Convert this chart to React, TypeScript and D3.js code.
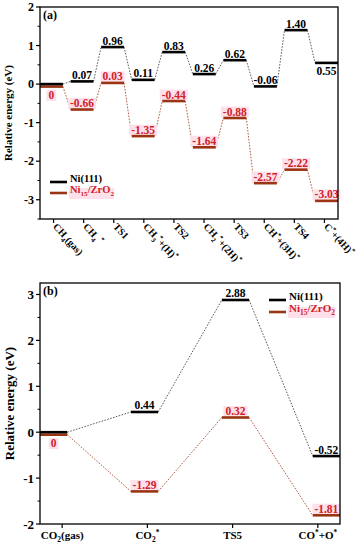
import React from "react";
import * as d3 from "d3";

const topCategories = ["CH4(gas)", "CH4 *", "TS1", "CH3*+(H)*", "TS2", "CH2*+(2H)*", "TS3", "CH*+(3H)*", "TS4", "C*+(4H)*"];
const topNi111 = [0, 0.07, 0.96, 0.11, 0.83, 0.26, 0.62, -0.06, 1.4, 0.55];
const topNiZrO2 = [0, -0.66, 0.03, -1.35, -0.44, -1.64, -0.88, -2.57, -2.22, -3.03];
const topNi111Below = [false, false, false, false, false, false, false, false, false, true];
const topYTicks = [-3, -2, -1, 0, 1, 2];

const bottomCategories = ["CO2(gas)", "CO2*", "TS5", "CO*+O*"];
const bottomNi111 = [0, 0.44, 2.88, -0.52];
const bottomNiZrO2 = [0, -1.29, 0.32, -1.81];
const bottomNi111Below = [false, false, false, false];
const bottomYTicks = [-2, -1, 0, 1, 2, 3];

const seriesNames = ["Ni(111)", "Ni15/ZrO2"];

const FONT = "'Liberation Serif', 'Times New Roman', serif";
const BLACK = "#000";
const BROWN = "#9a3412";
const RED_TEXT = "#d0202a";
const PINK = "#fde0ea";

type Seg = { t: string; k: "n" | "sub" | "sup" };

function parse(s: string): Seg[] {
  const segs: Seg[] = [];
  for (let i = 0; i < s.length; i++) {
    const c = s[i];
    const prev = i > 0 ? s[i - 1] : "";
    let k: Seg["k"] = "n";
    if (c === "*") k = "sup";
    else if (/[0-9]/.test(c)) {
      const prevIsLetter = /[A-Za-z]/.test(prev) && prev !== "S";
      const prevIsSubDigit = /[0-9]/.test(prev) && segs.length && segs[segs.length - 1].k === "sub";
      if (prevIsLetter || prevIsSubDigit) k = "sub";
    }
    const last = segs[segs.length - 1];
    if (last && last.k === k) last.t += c;
    else segs.push({ t: c, k });
  }
  return segs;
}

function Rich({ s, fs }: { s: string; fs: number }) {
  const segs = parse(s);
  let cur = 0;
  return (
    <>
      {segs.map((sg, i) => {
        const target = sg.k === "sub" ? fs * 0.3 : sg.k === "sup" ? -fs * 0.4 : 0;
        const dy = target - cur;
        cur = target;
        return (
          <tspan key={i} dy={dy} fontSize={sg.k === "n" ? fs : fs * 0.68}>
            {sg.t}
          </tspan>
        );
      })}
    </>
  );
}

const fmt = (v: number) => (v === 0 ? "0" : v.toFixed(2));
const textW = (s: string, fs: number) => {
  let w = 0;
  for (const c of s) w += c === "." ? 0.25 : c === "-" ? 0.333 : 0.5;
  return w * fs;
};

type PanelProps = {
  x0: number; x1: number; y0: number; y1: number;
  yDomain: [number, number];
  yTicks: number[];
  cats: string[];
  black: number[];
  red: number[];
  blackBelow: boolean[];
  paddingInner: number;
  tickPadding: number;
  rotated: boolean;
  tag: string;
  titleFs: number;
  titleX: number;
  tickFs: number;
  legendX: number;
  legendY: number;
  legendGap: number;
  legendFs: number;
  xLabelFs: number;
};

function Panel(p: PanelProps) {
  const y = d3.scaleLinear().domain(p.yDomain).range([p.y1, p.y0]);
  const idx = p.cats.map((_, i) => String(i));
  const xb = d3.scaleBand().domain(idx).range([p.x0, p.x1]).paddingInner(p.paddingInner).paddingOuter(0);
  const xt = d3.scalePoint().domain(idx).range([p.x0, p.x1]).padding(p.tickPadding);
  const bw = xb.bandwidth();
  const minor = d3.range(p.yDomain[0], p.yDomain[1] + 0.001, 0.5).filter((v) => !p.yTicks.includes(v));
  const labFs = 11.5;

  const redY = (i: number) => y(p.red[i]) + (p.red[i] === p.black[i] ? 2.5 : 0);

  const connectors = (vals: number[], yf: (i: number) => number, color: string) =>
    vals.slice(0, -1).map((_, i) => (
      <line
        key={color + i}
        x1={(xb(String(i)) as number) + bw}
        y1={yf(i)}
        x2={xb(String(i + 1)) as number}
        y2={yf(i + 1)}
        stroke={color}
        strokeWidth={0.8}
        strokeDasharray="1.6,1.4"
      />
    ));

  const lfs = p.legendFs;

  return (
    <g fontFamily={FONT} fontWeight="bold">
      {connectors(p.red, redY, BROWN)}
      {connectors(p.black, (i) => y(p.black[i]), "#333")}
      {p.red.map((v, i) => {
        const cx = (xb(String(i)) as number) + bw / 2;
        const below = v === 0;
        const by = below ? redY(i) + 12.5 : redY(i) - 2.5;
        const s = fmt(v);
        const w = textW(s, labFs);
        return (
          <g key={"rl" + i}>
            <rect x={cx - w / 2 - 2} y={by - 9} width={w + 4} height={11} fill={PINK} />
            <text x={cx} y={by} textAnchor="middle" fontSize={labFs} fill={RED_TEXT}>{s}</text>
          </g>
        );
      })}
      {p.red.map((v, i) => (
        <line key={"rb" + i} x1={xb(String(i)) as number} x2={(xb(String(i)) as number) + bw} y1={redY(i)} y2={redY(i)} stroke={BROWN} strokeWidth={2.6} />
      ))}
      {p.black.map((v, i) => (
        <line key={"bb" + i} x1={xb(String(i)) as number} x2={(xb(String(i)) as number) + bw} y1={y(v)} y2={y(v)} stroke={BLACK} strokeWidth={2.6} />
      ))}
      {p.black.map((v, i) => {
        if (v === 0 && i === 0) return null;
        const cx = (xb(String(i)) as number) + bw / 2;
        const by = p.blackBelow[i] ? y(v) + 12.5 : y(v) - 2.5;
        return (
          <text key={"bl" + i} x={cx} y={by} textAnchor="middle" fontSize={labFs} fill={BLACK}>{fmt(v)}</text>
        );
      })}
      <rect x={p.x0} y={p.y0} width={p.x1 - p.x0} height={p.y1 - p.y0} fill="none" stroke={BLACK} strokeWidth={1.3} />
      {p.yTicks.map((t) => (
        <g key={"yt" + t}>
          <line x1={p.x0 - 4} x2={p.x0} y1={y(t)} y2={y(t)} stroke={BLACK} strokeWidth={1.2} />
          <text x={p.x0 - 6} y={y(t)} dy="0.35em" textAnchor="end" fontSize={p.tickFs}>{t}</text>
        </g>
      ))}
      {minor.map((t) => (
        <line key={"ym" + t} x1={p.x0 - 2.5} x2={p.x0} y1={y(t)} y2={y(t)} stroke={BLACK} strokeWidth={1} />
      ))}
      {idx.map((d, i) => {
        const tx = xt(d) as number;
        return (
          <g key={"xt" + i}>
            <line x1={tx} x2={tx} y1={p.y1} y2={p.y1 + 4} stroke={BLACK} strokeWidth={1.2} />
            {p.rotated ? (
              <text transform={`translate(${tx - 1},${p.y1 + 8}) rotate(48)`} fontSize={p.xLabelFs} dy="0.7em">
                <Rich s={p.cats[i]} fs={p.xLabelFs} />
              </text>
            ) : (
              <text x={tx} y={p.y1 + 15} textAnchor="middle" fontSize={p.xLabelFs}>
                <Rich s={p.cats[i]} fs={p.xLabelFs} />
              </text>
            )}
          </g>
        );
      })}
      <text x={p.x0 + 3} y={p.y0 + 12} fontSize={12}>{p.tag}</text>
      <text transform={`translate(${p.titleX},${(p.y0 + p.y1) / 2}) rotate(-90)`} textAnchor="middle" fontSize={p.titleFs}>
        Relative energy (eV)
      </text>
      <g>
        <line x1={p.legendX} x2={p.legendX + 17} y1={p.legendY} y2={p.legendY} stroke={BLACK} strokeWidth={2.6} />
        <text x={p.legendX + 20} y={p.legendY} dy="0.33em" fontSize={lfs}>
          <Rich s={seriesNames[0]} fs={lfs} />
        </text>
        <line x1={p.legendX} x2={p.legendX + 17} y1={p.legendY + p.legendGap} y2={p.legendY + p.legendGap} stroke={BROWN} strokeWidth={2.6} />
        <rect x={p.legendX + 19} y={p.legendY + p.legendGap - 5} width={lfs * 4.3} height={11} fill={PINK} />
        <text x={p.legendX + 20} y={p.legendY + p.legendGap} dy="0.33em" fontSize={lfs} fill={RED_TEXT}>
          <Rich s={seriesNames[1]} fs={lfs} />
        </text>
      </g>
    </g>
  );
}

export default function App() {
  return (
    <svg width={358} height={550} style={{ position: "absolute", left: 0, top: 0, background: "#fff" }}>
      <Panel
        x0={40} x1={338} y0={7} y1={219}
        yDomain={[-3.5, 2]} yTicks={topYTicks}
        cats={topCategories} black={topNi111} red={topNiZrO2} blackBelow={topNi111Below}
        paddingInner={0.25} tickPadding={0.45} rotated={true} tag="(a)"
        titleFs={11} titleX={12} tickFs={12}
        legendX={50} legendY={182} legendGap={11} legendFs={10.5}
        xLabelFs={10}
      />
      <Panel
        x0={40} x1={340} y0={283} y1={524}
        yDomain={[-2, 3.25]} yTicks={bottomYTicks}
        cats={bottomCategories} black={bottomNi111} red={bottomNiZrO2} blackBelow={bottomNi111Below}
        paddingInner={0.7} tickPadding={0.26} rotated={false} tag="(b)"
        titleFs={13} titleX={14} tickFs={13}
        legendX={269} legendY={300} legendGap={12} legendFs={11}
        xLabelFs={11}
      />
    </svg>
  );
}
